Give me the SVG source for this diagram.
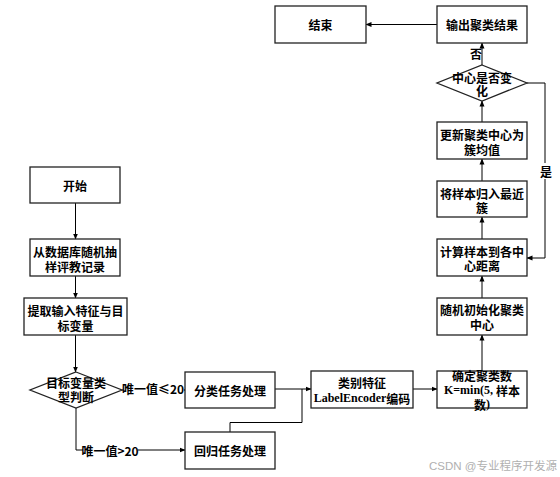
<svg xmlns="http://www.w3.org/2000/svg" width="560" height="477" viewBox="0 0 560 477">
<defs>
<marker id="ah" markerWidth="6" markerHeight="6" refX="5.5" refY="3" orient="auto" markerUnits="userSpaceOnUse">
<path d="M0,0.5 L6,3 L0,5.5 Z" fill="#000"/>
</marker>
<style>
.box{fill:#fff;stroke:#222;stroke-width:1.3}
.t{font-family:"Noto Sans CJK SC","Liberation Sans",sans-serif;font-size:12px;font-weight:bold;fill:#000;text-anchor:middle;dominant-baseline:central}
.s{font-family:"Liberation Serif","Noto Sans CJK SC",serif}
.c{fill:none;stroke:#000;stroke-width:1}
.bg{fill:#fff}
</style>
</defs>
<rect width="560" height="477" fill="#fff"/>
<g id="connectors">
<path class="c" d="M75.5,203 V239" marker-end="url(#ah)"/>
<path class="c" d="M75.5,276 V298" marker-end="url(#ah)"/>
<path class="c" d="M75.5,335 V372" marker-end="url(#ah)"/>
<path class="c" d="M122,390 H185" marker-end="url(#ah)"/>
<path class="c" d="M76,408 V450 H185" marker-end="url(#ah)"/>
<path class="c" d="M275,389 H311" marker-end="url(#ah)"/>
<path class="c" d="M230,432 V422.5 H302 V389"/>
<path class="c" d="M413,389 H437" marker-end="url(#ah)"/>
<path class="c" d="M482,371 V335" marker-end="url(#ah)"/>
<path class="c" d="M482,298 V276" marker-end="url(#ah)"/>
<path class="c" d="M482,239 V217" marker-end="url(#ah)"/>
<path class="c" d="M482,181 V159" marker-end="url(#ah)"/>
<path class="c" d="M482,122 V101" marker-end="url(#ah)"/>
<path class="c" d="M482,65 V43" marker-end="url(#ah)"/>
<path class="c" d="M437,24.5 H366" marker-end="url(#ah)"/>
<path class="c" d="M527,83 H545 V258 H527" marker-end="url(#ah)"/>
<rect class="bg" x="123" y="380" width="61" height="19"/>
<text class="t" x="153" y="388">唯一值≤20</text>
<rect class="bg" x="83" y="442" width="55" height="16"/>
<text class="t" x="110" y="450">唯一值&gt;20</text>
<text class="t" x="476" y="53">否</text>
<rect class="bg" x="540" y="163" width="12" height="16"/>
<text class="t" x="546" y="171">是</text>
</g>
<g id="start"><rect class="box" x="30" y="167" width="90" height="36"/><text class="t" x="75" y="185">开始</text></g>
<g id="sample"><rect class="box" x="30" y="239" width="90" height="37"/><text class="t" x="75" y="251">从数据库随机抽<tspan x="75" dy="15">样评教记录</tspan></text></g>
<g id="extract"><rect class="box" x="24" y="298" width="103" height="37"/><text class="t" x="75.5" y="310">提取输入特征与目<tspan x="75.5" dy="15">标变量</tspan></text></g>
<g id="judge"><path class="box" d="M76,372 L122,390 L76,408 L30,390 Z"/><text class="t" x="76" y="382">目标变量类<tspan x="76" dy="14">型判断</tspan></text></g>
<g id="classify"><rect class="box" x="185" y="372" width="90" height="36"/><text class="t" x="230" y="390">分类任务处理</text></g>
<g id="regress"><rect class="box" x="185" y="432" width="90" height="37"/><text class="t" x="230" y="450.5">回归任务处理</text></g>
<g id="encode"><rect class="box" x="311" y="371" width="102" height="37"/><text class="t" x="362" y="382">类别特征<tspan x="362" dy="16"><tspan class="s">LabelEncoder</tspan>编码</tspan></text></g>
<g id="kset"><rect class="box" x="437" y="371" width="90" height="37"/><text class="t" x="482" y="375">确定聚类数<tspan x="482" dy="15"><tspan class="s">K=min(5, </tspan>样本</tspan><tspan x="482" dy="14">数<tspan class="s">)</tspan></tspan></text></g>
<g id="init"><rect class="box" x="437" y="298" width="90" height="37"/><text class="t" x="482" y="309">随机初始化聚类<tspan x="482" dy="15">中心</tspan></text></g>
<g id="dist"><rect class="box" x="437" y="239" width="90" height="37"/><text class="t" x="482" y="251">计算样本到各中<tspan x="482" dy="14">心距离</tspan></text></g>
<g id="assign"><rect class="box" x="437" y="181" width="90" height="36"/><text class="t" x="482" y="193">将样本归入最近<tspan x="482" dy="14">簇</tspan></text></g>
<g id="update"><rect class="box" x="437" y="122" width="90" height="37"/><text class="t" x="482" y="134">更新聚类中心为<tspan x="482" dy="15">簇均值</tspan></text></g>
<g id="changed"><path class="box" d="M482,65 L527,83 L482,101 L437,83 Z"/><text class="t" x="482" y="77">中心是否变<tspan x="482" dy="13">化</tspan></text></g>
<g id="output"><rect class="box" x="437" y="6" width="90" height="37"/><text class="t" x="482" y="24.5">输出聚类结果</text></g>
<g id="end"><rect class="box" x="275" y="6" width="91" height="37"/><text class="t" x="320.5" y="24.5">结束</text></g>
<text x="557" y="466" font-family="'Liberation Sans','Noto Sans CJK SC',sans-serif" font-size="11.5" fill="#b0b0b0" text-anchor="end" dominant-baseline="central">CSDN @专业程序开发源</text>
</svg>
